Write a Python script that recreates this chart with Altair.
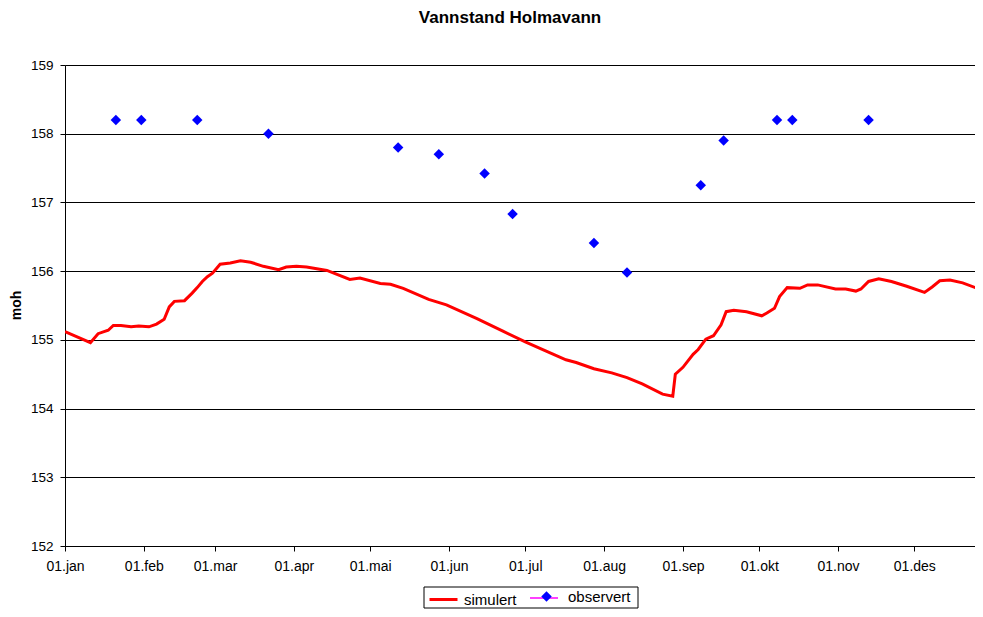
import json
import altair as alt
import pandas as pd

# ---- data ----
sim_dates = [
    "2009-01-01", "2009-01-11", "2009-01-14", "2009-01-18", "2009-01-20", "2009-01-23",
    "2009-01-27", "2009-01-30", "2009-02-03", "2009-02-06", "2009-02-09", "2009-02-11",
    "2009-02-13", "2009-02-17", "2009-02-20", "2009-02-22", "2009-02-24", "2009-02-26",
    "2009-02-28", "2009-03-03", "2009-03-07", "2009-03-11", "2009-03-15", "2009-03-20",
    "2009-03-26", "2009-03-29", "2009-04-02", "2009-04-06", "2009-04-14", "2009-04-23",
    "2009-04-27", "2009-05-05", "2009-05-09", "2009-05-14", "2009-05-24", "2009-05-31",
    "2009-06-12", "2009-06-22", "2009-07-01", "2009-07-09", "2009-07-17", "2009-07-21",
    "2009-07-28", "2009-08-04", "2009-08-10", "2009-08-16", "2009-08-24", "2009-08-28",
    "2009-08-29", "2009-09-01", "2009-09-05", "2009-09-07", "2009-09-10", "2009-09-13",
    "2009-09-16", "2009-09-18", "2009-09-21", "2009-09-26", "2009-10-02", "2009-10-04",
    "2009-10-07", "2009-10-09", "2009-10-12", "2009-10-17", "2009-10-20", "2009-10-24",
    "2009-10-31", "2009-11-04", "2009-11-08", "2009-11-10", "2009-11-13", "2009-11-17",
    "2009-11-22", "2009-11-28", "2009-12-05", "2009-12-08", "2009-12-11", "2009-12-15",
    "2009-12-20", "2009-12-25", "2009-12-31",
]
sim_values = [
    155.12, 154.96, 155.09, 155.14, 155.21, 155.21,
    155.19, 155.20, 155.19, 155.23, 155.30, 155.48,
    155.56, 155.57, 155.68, 155.76, 155.85, 155.92,
    155.97, 156.10, 156.12, 156.15, 156.13, 156.07,
    156.02, 156.06, 156.07, 156.06, 156.01, 155.88,
    155.90, 155.82, 155.81, 155.75, 155.59, 155.51,
    155.31, 155.13, 154.97, 154.84, 154.71, 154.67,
    154.58, 154.52, 154.45, 154.36, 154.21, 154.18,
    154.50, 154.60, 154.79, 154.86, 155.01, 155.06,
    155.22, 155.41, 155.43, 155.41, 155.35, 155.39,
    155.46, 155.63, 155.76, 155.75, 155.80, 155.80,
    155.74, 155.74, 155.71, 155.74, 155.85, 155.89,
    155.85, 155.78, 155.69, 155.77, 155.86, 155.87,
    155.83, 155.76, 155.75,
]

obs_dates = [
    "2009-01-21", "2009-01-31", "2009-02-22", "2009-03-22", "2009-05-12",
    "2009-05-28", "2009-06-15", "2009-06-26", "2009-07-28", "2009-08-10",
    "2009-09-08", "2009-09-17", "2009-10-08", "2009-10-14", "2009-11-13",
]
obs_values = [
    158.2, 158.2, 158.2, 158.0, 157.8,
    157.7, 157.42, 156.83, 156.41, 155.98,
    157.25, 157.9, 158.2, 158.2, 158.2,
]

series_names = ["simulert", "observert"]
series_colors = ["#FF0000", "#0000FF"]
month_labels = ["jan", "feb", "mar", "apr", "mai", "jun", "jul", "aug", "sep", "okt", "nov", "des"]
y_ticks = [152, 153, 154, 155, 156, 157, 158, 159]

sim = pd.DataFrame({"dato": sim_dates, "moh": sim_values, "serie": series_names[0]})
obs = pd.DataFrame({"dato": obs_dates, "moh": obs_values, "serie": series_names[1]})

FONT = "Liberation Sans"

x_scale = alt.Scale(
    type="utc",
    domain=[
        alt.DateTime(year=2009, month=1, date=1, utc=True),
        alt.DateTime(year=2009, month=12, date=24, hours=20, minutes=24, utc=True),
    ],
)
x_axis = alt.Axis(
    title=None,
    values=[alt.DateTime(year=2009, month=m, date=1, utc=True) for m in range(1, 13)],
    labelExpr="'01.' + " + json.dumps(month_labels) + "[utcmonth(datum.value)]",
    grid=False,
    labelFont=FONT,
    labelFontSize=14,
    labelColor="black",
    labelPadding=8,
    tickSize=5,
    tickColor="black",
    domainColor="black",
    labelFlush=False,
    labelOverlap=False,
)
y_axis = alt.Axis(
    title="moh",
    values=y_ticks,
    format="d",
    grid=True,
    gridColor="black",
    gridWidth=1,
    gridOpacity=1,
    labelFont=FONT,
    labelFontSize=13.5,
    labelColor="black",
    labelPadding=7,
    tickSize=5,
    tickColor="black",
    domainColor="black",
    titleFont=FONT,
    titleFontSize=14,
    titleFontWeight="bold",
    titleColor="black",
    titleAngle=-90,
    titleX=-49,
    titleY=240,
    titleAlign="center",
    titleBaseline="middle",
)

legend_common = dict(
    title=None,
    orient="none",
    direction="horizontal",
    padding=4,
    labelFont=FONT,
    labelFontSize=15,
    labelColor="black",
)
legend_sim = alt.Legend(
    legendX=359, legendY=515, symbolType="stroke", symbolSize=784, symbolStrokeWidth=3,
    labelOffset=5, **legend_common
)
legend_obs = alt.Legend(
    legendX=470, legendY=520, symbolType="diamond", symbolSize=110, symbolStrokeWidth=0,
    labelOffset=14, **legend_common
)

x_enc = alt.X("dato:T", scale=x_scale, axis=x_axis)
y_enc = alt.Y("moh:Q", scale=alt.Scale(domain=[152, 159], nice=False, zero=False), axis=y_axis)

# legend frame and the line through the legend diamond (decoration only)
frame = alt.Chart(pd.DataFrame({"k": [0]})).mark_rect(
    fill="white", stroke="black", strokeWidth=1
).encode(x=alt.value(359), x2=alt.value(573), y=alt.value(522), y2=alt.value(543))
legend_line = alt.Chart(pd.DataFrame({"k": [0]})).mark_rule(
    color="#FF00FF", strokeWidth=1.5
).encode(x=alt.value(465), x2=alt.value(493), y=alt.value(533))

line = alt.Chart(sim).mark_line(strokeWidth=3, clip=True).encode(
    x=x_enc, y=y_enc,
    color=alt.Color("serie:N", scale=alt.Scale(domain=[series_names[0]], range=[series_colors[0]]),
                    legend=legend_sim),
)
points = alt.Chart(obs).mark_point(shape="diamond", filled=True, size=110, opacity=1, clip=True).encode(
    x=x_enc, y=y_enc,
    color=alt.Color("serie:N", scale=alt.Scale(domain=[series_names[1]], range=[series_colors[1]]),
                    legend=legend_obs),
)

chart = (
    alt.layer(frame, legend_line, line, points)
    .resolve_scale(color="independent")
    .resolve_legend(color="independent")
    .properties(
        width=910,
        height=481,
        autosize="none",
        padding={"left": 57, "top": 57, "right": 0, "bottom": 63},
        title=alt.TitleParams(
            text="Vannstand Holmavann",
            font=FONT,
            fontSize=17,
            fontWeight="bold",
            color="black",
            anchor="middle",
            dx=-10,
            offset=31,
        ),
    )
    .configure_view(fill="#C0C0C0", stroke="transparent")
    .configure(background="white")
)

chart.save("out.html", embed_options={"renderer": "svg", "actions": False})
